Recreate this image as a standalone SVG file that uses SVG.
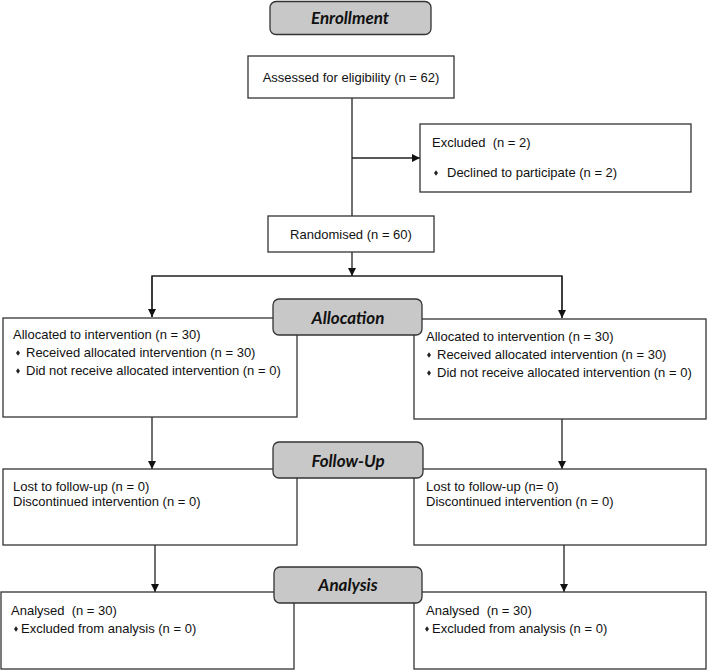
<svg xmlns="http://www.w3.org/2000/svg" width="709" height="670" viewBox="0 0 709 670">
<style>
.box{fill:#fff;stroke:#333;stroke-width:1.3}
.lab{fill:#c8c8c8;stroke:#333;stroke-width:1.3}
.t{font-family:"Liberation Sans",Arial,sans-serif;font-size:13px;fill:#111;white-space:pre}
.h{font-family:Lato,"Open Sans",sans-serif;font-size:17px;font-weight:bold;font-style:italic;fill:#111;text-anchor:middle}
.c{fill:none;stroke:#222;stroke-width:1.3}
.b{fill:#222}
</style>
<defs>
<marker id="ah" viewBox="0 0 10 10" refX="10" refY="5" markerWidth="8" markerHeight="8" markerUnits="userSpaceOnUse" orient="auto">
<path d="M0,0 L10,5 L0,10 z" fill="#111"/>
</marker>
<path id="dia" d="M0,-2.8 L2,0 L0,2.8 L-2,0 z"/>
</defs>
<g id="connectors">
<path class="c" d="M352,98 V216"/>
<path class="c" d="M352,158 H420" marker-end="url(#ah)"/>
<path class="c" d="M352,252 V276" marker-end="url(#ah)"/>
<path class="c" d="M152,317 V276 H562 V318"/>
<path class="c" d="M152,276 V317" marker-end="url(#ah)"/>
<path class="c" d="M562,276 V318" marker-end="url(#ah)"/>
<path class="c" d="M152,417 V469" marker-end="url(#ah)"/>
<path class="c" d="M562,419 V469" marker-end="url(#ah)"/>
<path class="c" d="M155,545 V592" marker-end="url(#ah)"/>
<path class="c" d="M564,545 V592" marker-end="url(#ah)"/>
</g>
<g id="enrollment"><rect class="lab" x="270" y="1.5" width="161" height="33" rx="6"/><text class="h" x="350" y="24">Enrollment</text></g>
<g id="assessed"><rect class="box" x="248" y="56" width="206" height="42"/><text class="t" x="351" y="82" text-anchor="middle">Assessed for eligibility (n = 62)</text></g>
<g id="excluded"><rect class="box" x="420" y="124" width="271" height="68"/><text class="t" x="432" y="147" xml:space="preserve">Excluded  (n = 2)</text><use href="#dia" class="b" x="436" y="173"/><text class="t" x="447" y="177">Declined to participate (n = 2)</text></g>
<g id="randomised"><rect class="box" x="268" y="216" width="166" height="36"/><text class="t" x="351" y="239" text-anchor="middle">Randomised (n = 60)</text></g>
<g id="alloc-left"><rect class="box" x="3" y="318" width="294" height="99"/><text class="t" x="13" y="339">Allocated to intervention (n = 30)</text><use href="#dia" class="b" x="18" y="353"/><text class="t" x="26" y="357">Received allocated intervention (n = 30)</text><use href="#dia" class="b" x="18" y="371"/><text class="t" x="26" y="375">Did not receive allocated intervention (n = 0)</text></g>
<g id="alloc-right"><rect class="box" x="414" y="319" width="292" height="100"/><text class="t" x="426" y="341">Allocated to intervention (n = 30)</text><use href="#dia" class="b" x="429" y="355"/><text class="t" x="437" y="359">Received allocated intervention (n = 30)</text><use href="#dia" class="b" x="429" y="373"/><text class="t" x="437" y="377">Did not receive allocated intervention (n = 0)</text></g>
<g id="allocation"><rect class="lab" x="273" y="299" width="149" height="36" rx="6"/><text class="h" x="348" y="324">Allocation</text></g>
<g id="follow-left"><rect class="box" x="3" y="469" width="294" height="76"/><text class="t" x="13" y="491">Lost to follow-up (n = 0)</text><text class="t" x="13" y="506">Discontinued intervention (n = 0)</text></g>
<g id="follow-right"><rect class="box" x="414" y="469" width="292" height="76"/><text class="t" x="426" y="491">Lost to follow-up (n= 0)</text><text class="t" x="426" y="506">Discontinued intervention (n = 0)</text></g>
<g id="followup"><rect class="lab" x="273" y="442" width="150" height="36" rx="6"/><text class="h" x="348" y="467">Follow-Up</text></g>
<g id="analysis-left"><rect class="box" x="1" y="592" width="293" height="77"/><text class="t" x="11" y="615" xml:space="preserve">Analysed  (n = 30)</text><use href="#dia" class="b" x="16" y="629"/><text class="t" x="21" y="633">Excluded from analysis (n = 0)</text></g>
<g id="analysis-right"><rect class="box" x="414" y="592" width="292" height="77"/><text class="t" x="426" y="615" xml:space="preserve">Analysed  (n = 30)</text><use href="#dia" class="b" x="427" y="629"/><text class="t" x="432" y="633">Excluded from analysis (n = 0)</text></g>
<g id="analysis"><rect class="lab" x="274" y="567" width="148" height="36" rx="6"/><text class="h" x="348" y="591">Analysis</text></g>
</svg>
